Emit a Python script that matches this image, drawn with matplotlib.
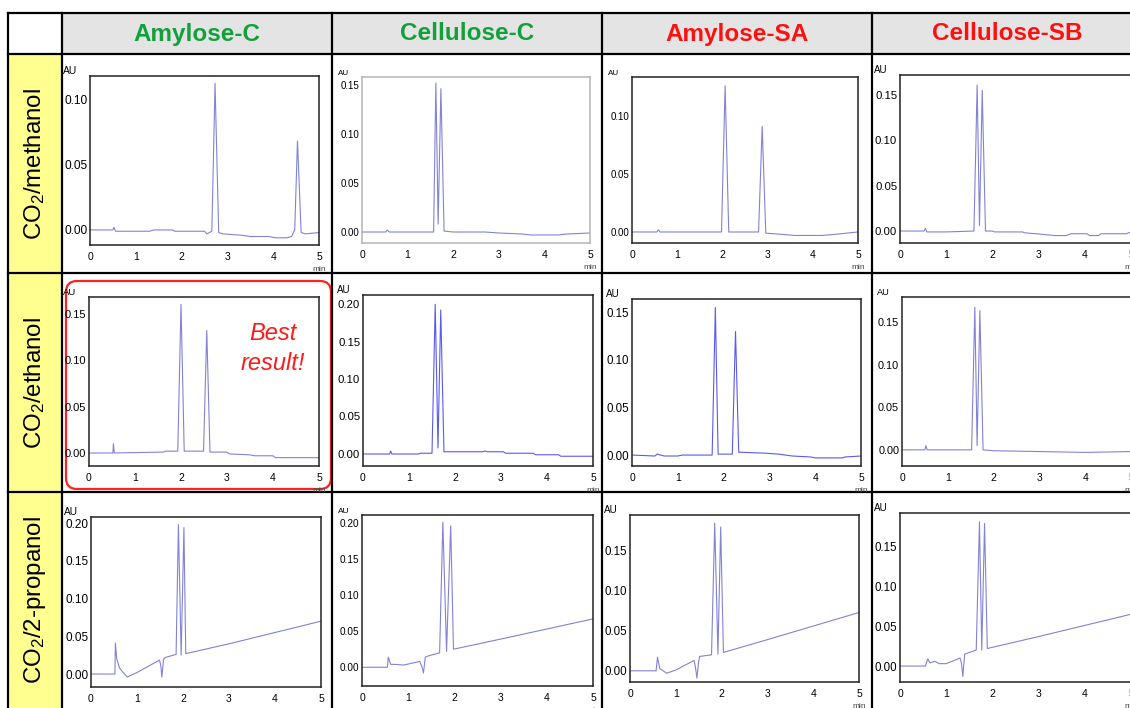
import matplotlib
matplotlib.use('Agg')
import matplotlib.pyplot as plt
from matplotlib.patches import Rectangle, FancyBboxPatch

plt.rcParams['font.family'] = ['Liberation Sans', 'DejaVu Sans']
plt.rcParams['mathtext.fontset'] = 'custom'
plt.rcParams['mathtext.rm'] = 'Liberation Sans'
plt.rcParams['mathtext.it'] = 'Liberation Sans:italic'

# column / row headers
columns = ['Amylose-C', 'Cellulose-C', 'Amylose-SA', 'Cellulose-SB']
column_colors = ['#12a03c', '#12a03c', '#ff1010', '#ff1010']
rows = [r'CO$_2$/methanol', r'CO$_2$/ethanol', r'CO$_2$/2-propanol']

# chromatograms: time (min) and absorbance (AU)
# row 1 - CO2/methanol
t_amc_meoh = [0, 0.5, 0.52, 0.56, 1.3, 1.4, 1.8, 1.85, 2.5, 2.55, 2.66, 2.73, 2.81, 2.9, 3.3, 3.5, 3.9, 4.05, 4.3, 4.4, 4.47, 4.53, 4.61, 4.7, 5.0]
au_amc_meoh = [0, 0, 0.002, -0.001, -0.001, 0.0, 0.0, -0.001, -0.001, -0.003, -0.001, 0.112, -0.002, -0.003, -0.004, -0.005, -0.005, -0.006, -0.006, -0.005, 0.0, 0.068, -0.002, -0.003, -0.002]
t_cec_meoh = [0, 0.52, 0.55, 0.6, 1.5, 1.57, 1.62, 1.67, 1.73, 1.8, 2.0, 2.7, 3.0, 3.5, 3.7, 4.3, 4.5, 5.0]
au_cec_meoh = [0, 0, 0.002, 0, 0, 0, 0.152, 0.008, 0.146, 0.001, 0, 0, -0.001, -0.002, -0.003, -0.003, -0.002, -0.001]
t_amsa_meoh = [0, 0.55, 0.58, 0.62, 1.98, 2.06, 2.14, 2.8, 2.88, 2.96, 3.3, 3.6, 4.2, 4.5, 5.0]
au_amsa_meoh = [0, 0, 0.002, 0, 0, 0.126, 0, 0, 0.091, -0.001, -0.002, -0.003, -0.003, -0.002, 0.0]
t_cesb_meoh = [0, 0.52, 0.55, 0.58, 0.6, 1.0, 1.6, 1.67, 1.72, 1.78, 1.85, 2.0, 2.05, 2.65, 2.7, 2.95, 3.35, 3.6, 3.7, 4.05, 4.1, 4.3, 4.35, 4.9, 5.0]
au_cesb_meoh = [0, 0, 0.003, -0.001, -0.001, -0.001, 0, 0.161, 0.006, 0.155, 0, 0, -0.001, -0.001, -0.002, -0.003, -0.005, -0.005, -0.003, -0.003, -0.005, -0.005, -0.003, -0.003, -0.001]

# row 2 - CO2/ethanol
t_amc_etoh = [0, 0.52, 0.53, 0.55, 1.62, 1.66, 1.93, 2.0, 2.07, 2.49, 2.56, 2.63, 3.0, 3.05, 3.5, 3.6, 4.0, 4.05, 5.0]
au_amc_etoh = [0, 0, 0.010, 0, 0.001, 0.002, 0.002, 0.160, 0.002, 0.002, 0.132, 0.001, 0.001, -0.001, -0.002, -0.003, -0.003, -0.005, -0.005]
t_cec_etoh = [0, 0.58, 0.6, 0.63, 1.2, 1.25, 1.5, 1.57, 1.63, 1.69, 1.76, 1.85, 2.6, 2.65, 2.7, 3.05, 3.1, 3.7, 3.75, 4.25, 4.3, 5.0]
au_cec_etoh = [0, 0, 0.004, 0, 0, 0.001, 0.001, 0.1996, 0.008, 0.192, 0.003, 0.003, 0.003, 0.004, 0.003, 0.003, 0.001, 0.001, -0.001, -0.001, -0.003, -0.003]
t_amsa_etoh = [0, 0.5, 0.55, 0.7, 1.0, 1.1, 1.2, 1.3, 1.75, 1.82, 1.88, 2.19, 2.26, 2.33, 2.9, 3.2, 3.5, 3.9, 4.0, 4.6, 4.65, 5.0]
au_amsa_etoh = [0, -0.001, 0.001, -0.001, -0.001, 0.0, 0.0, 0.0, 0.0, 0.155, 0.001, 0.001, 0.130, 0.003, 0.002, 0.001, -0.001, -0.002, -0.003, -0.003, -0.002, -0.001]
t_cesb_etoh = [0, 0.5, 0.52, 0.55, 1.52, 1.59, 1.64, 1.70, 1.77, 2.0, 3.0, 4.0, 5.0]
au_cesb_etoh = [0, 0, 0.005, 0, 0, 0.168, 0.005, 0.164, 0, -0.001, -0.002, -0.003, -0.002]

# row 3 - CO2/2-propanol
t_amc_ipa = [0, 0.52, 0.53, 0.56, 0.62, 0.7, 0.79, 1.0, 1.49, 1.52, 1.54, 1.58, 1.62, 1.85, 1.90, 1.96, 2.02, 2.06, 3.0, 4.0, 5.0]
au_amc_ipa = [0, 0, 0.041, 0.020, 0.008, 0.002, -0.004, 0.002, 0.0185, 0.010, -0.004, 0.020, 0.022, 0.026, 0.198, 0.025, 0.194, 0.027, 0.040, 0.055, 0.070]
t_cec_ipa = [0, 0.55, 0.57, 0.62, 0.7, 0.9, 1.25, 1.3, 1.33, 1.37, 1.45, 1.68, 1.75, 1.83, 1.92, 1.98, 3.0, 4.0, 5.0]
au_cec_ipa = [0, 0, 0.014, 0.004, 0.004, 0.003, 0.008, 0.0, -0.008, 0.014, 0.016, 0.020, 0.201, 0.022, 0.196, 0.025, 0.039, 0.053, 0.067]
t_amsa_ipa = [0, 0.57, 0.6, 0.65, 0.8, 1.0, 1.4, 1.43, 1.46, 1.5, 1.52, 1.78, 1.85, 1.92, 1.98, 2.04, 3.0, 4.0, 5.0]
au_amsa_ipa = [0, 0, 0.017, 0.003, -0.003, 0.001, 0.013, 0.004, -0.009, 0.012, 0.018, 0.020, 0.185, 0.021, 0.180, 0.023, 0.039, 0.056, 0.073]
t_cesb_ipa = [0, 0.55, 0.6, 0.65, 0.75, 0.85, 1.0, 1.3, 1.33, 1.36, 1.4, 1.65, 1.72, 1.77, 1.83, 1.89, 3.0, 4.0, 5.0]
au_cesb_ipa = [0, 0, 0.009, 0.004, 0.006, 0.003, 0.003, 0.010, 0.004, -0.013, 0.015, 0.020, 0.181, 0.020, 0.179, 0.022, 0.037, 0.051, 0.065]

traces = [
    [(t_amc_meoh, au_amc_meoh), (t_cec_meoh, au_cec_meoh), (t_amsa_meoh, au_amsa_meoh), (t_cesb_meoh, au_cesb_meoh)],
    [(t_amc_etoh, au_amc_etoh), (t_cec_etoh, au_cec_etoh), (t_amsa_etoh, au_amsa_etoh), (t_cesb_etoh, au_cesb_etoh)],
    [(t_amc_ipa, au_amc_ipa), (t_cec_ipa, au_cec_ipa), (t_amsa_ipa, au_amsa_ipa), (t_cesb_ipa, au_cesb_ipa)],
]

x_ticks = [0, 1, 2, 3, 4, 5]
y_ticks_010 = [0.0, 0.05, 0.10]
y_ticks_015 = [0.0, 0.05, 0.10, 0.15]
y_ticks_020 = [0.0, 0.05, 0.10, 0.15, 0.20]
y_ticks = [
    [y_ticks_010, y_ticks_015, y_ticks_010, y_ticks_015],
    [y_ticks_015, y_ticks_020, y_ticks_015, y_ticks_015],
    [y_ticks_020, y_ticks_020, y_ticks_015, y_ticks_015],
]

# layout (pixels): plot box left, top, right, bottom, y limits, label sizes
W, H = 1130, 708
boxes = [
    [(90, 76, 319, 245), (362, 77, 590, 243), (632, 77, 858, 243), (900, 75, 1131, 243)],
    [(89, 297, 319, 466), (363, 295, 593, 466), (632, 299, 861, 466), (902, 297, 1131, 466)],
    [(91, 517, 321, 687), (362, 515, 593, 686), (630, 515, 859, 682), (900, 513, 1131, 682)],
]
ylims = [
    [(-0.0115, 0.1176), (-0.0112, 0.158), (-0.0095, 0.1336), (-0.0132, 0.172)],
    [(-0.014, 0.168), (-0.016, 0.212), (-0.0115, 0.164), (-0.019, 0.18)],
    [(-0.0172, 0.208), (-0.026, 0.211), (-0.014, 0.195), (-0.020, 0.192)],
]
label_sizes = [
    [8.6, 7.0, 7.0, 8.2],
    [8.0, 8.2, 8.3, 7.8],
    [8.5, 7.2, 8.3, 8.3],
]

fig = plt.figure(figsize=(W / 100, H / 100), dpi=100)

# table background
bg = fig.add_axes([0, 0, 1, 1])
bg.set_xlim(0, W)
bg.set_ylim(H, 0)
bg.axis('off')
bg.add_patch(Rectangle((62, 13), W - 62, 41, facecolor='#e4e4e4', edgecolor='none'))
bg.add_patch(Rectangle((8, 54), 54, H - 54, facecolor='#ffff8f', edgecolor='none'))
for xv in [8, 62, 332, 602, 872]:
    bg.plot([xv, xv], [13, H], color='black', lw=1.6)
for yv in [13, 54, 273, 492]:
    bg.plot([8, W], [yv, yv], color='black', lw=1.6)
bg.add_patch(FancyBboxPatch((66, 281), 265, 208, boxstyle='round,pad=0,rounding_size=11',
                            facecolor='none', edgecolor='#ff2020', lw=1.6))

col_centers = [197, 467, 737, 1007]
for name, color, xc in zip(columns, column_colors, col_centers):
    fig.text(xc / W, 1 - 34 / H, name, color=color, fontsize=17.5, fontweight='bold',
             ha='center', va='center')

row_centers = [164, 383, 600]
for name, yc in zip(rows, row_centers):
    fig.text(35 / W, 1 - yc / H, name, rotation=90, fontsize=17.3, ha='center', va='center')

for i in range(3):
    for j in range(4):
        x0, y0, x1, y1 = boxes[i][j]
        ax = fig.add_axes([x0 / W, 1 - y1 / H, (x1 - x0) / W, (y1 - y0) / H])
        ax.set_zorder(2)
        t, au = traces[i][j]
        lc = '#5a5af0' if (i == 1 and j in (1, 2)) else '#8282d6'
        ax.plot(t, au, color=lc, lw=0.8)
        ax.set_xlim(0, 5)
        ax.set_ylim(*ylims[i][j])
        ax.set_xticks(x_ticks)
        ax.set_xticklabels([str(v) for v in x_ticks])
        ax.set_yticks(y_ticks[i][j])
        ax.set_yticklabels(['%.2f' % v for v in y_ticks[i][j]])
        fs = label_sizes[i][j]
        ax.tick_params(length=0)
        ax.tick_params(axis='y', labelsize=fs, pad=2)
        ax.tick_params(axis='x', labelsize=7.5, pad=5)
        edge = '#b4b4b4' if (i == 0 and j == 1) else '#222222'
        for s in ax.spines.values():
            s.set_color(edge)
            s.set_linewidth(1.1)
        ax.text(-0.055, 1.0, 'AU', transform=ax.transAxes, fontsize=fs - 1.2,
                ha='right', va='bottom')
        ax.text(1.0, -0.125, 'min', transform=ax.transAxes, fontsize=6, ha='center', va='top',
                color='#444444')

fig.text(273 / W, 1 - 334 / H, 'Best', color='#ff1a1a', fontsize=17, style='italic',
         ha='center', va='center', zorder=5)
fig.text(273 / W, 1 - 363 / H, 'result!', color='#ff1a1a', fontsize=17, style='italic',
         ha='center', va='center', zorder=5)

fig.savefig('out.png', dpi=100)
